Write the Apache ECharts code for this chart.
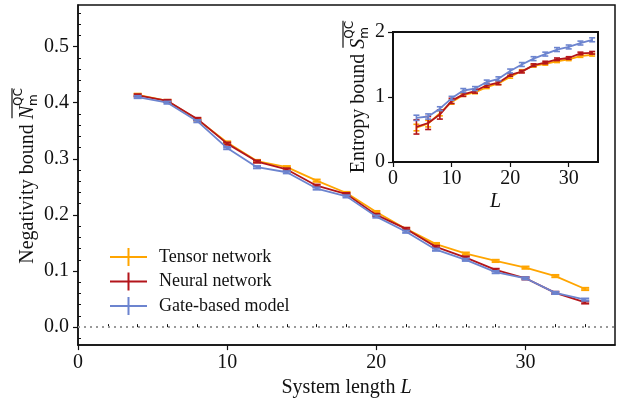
<!DOCTYPE html>
<html>
<head>
<meta charset="utf-8">
<script src="https://cdn.jsdelivr.net/npm/echarts@6/dist/echarts.min.js"></script>
<style>
html, body { margin: 0; padding: 0; background: #fff; }
#chart { width: 617px; height: 403px; }
</style>
</head>
<body>
<div id="chart"></div>
<script>
// system lengths
var L = [4, 6, 8, 10, 12, 14, 16, 18, 20, 22, 24, 26, 28, 30, 32, 34];

// negativity bound (main plot)
var negTN = [0.414, 0.403, 0.370, 0.329, 0.296, 0.285, 0.261, 0.239, 0.205, 0.175, 0.148, 0.131, 0.118, 0.106, 0.091, 0.068];
var negNN = [0.413, 0.403, 0.371, 0.327, 0.295, 0.281, 0.252, 0.237, 0.200, 0.175, 0.143, 0.124, 0.102, 0.087, 0.061, 0.044];
var negGB = [0.410, 0.400, 0.367, 0.319, 0.285, 0.276, 0.247, 0.233, 0.197, 0.170, 0.138, 0.120, 0.098, 0.087, 0.061, 0.049];
var negErrTN = [0.002, 0.002, 0.002, 0.002, 0.002, 0.002, 0.002, 0.002, 0.002, 0.002, 0.002, 0.002, 0.002, 0.002, 0.002, 0.002];
var negErrNN = [0.002, 0.002, 0.002, 0.002, 0.002, 0.002, 0.002, 0.002, 0.002, 0.002, 0.002, 0.002, 0.002, 0.002, 0.002, 0.002];
var negErrGB = [0.002, 0.002, 0.002, 0.002, 0.002, 0.002, 0.002, 0.002, 0.002, 0.002, 0.002, 0.002, 0.002, 0.002, 0.002, 0.002];

// entropy bound (inset)
var entTN = [0.53, 0.59, 0.75, 0.92, 1.03, 1.07, 1.15, 1.21, 1.31, 1.40, 1.48, 1.51, 1.55, 1.58, 1.63, 1.65];
var entNN = [0.54, 0.60, 0.73, 0.94, 1.04, 1.09, 1.18, 1.22, 1.34, 1.39, 1.49, 1.53, 1.58, 1.60, 1.67, 1.68];
var entGB = [0.68, 0.70, 0.82, 0.98, 1.10, 1.13, 1.23, 1.28, 1.40, 1.50, 1.59, 1.66, 1.73, 1.77, 1.83, 1.88];
var entErrTN = [0.05, 0.05, 0.04, 0.03, 0.02, 0.02, 0.02, 0.02, 0.02, 0.02, 0.02, 0.02, 0.02, 0.02, 0.02, 0.02];
var entErrNN = [0.11, 0.10, 0.07, 0.04, 0.03, 0.03, 0.03, 0.03, 0.02, 0.02, 0.02, 0.02, 0.02, 0.02, 0.02, 0.02];
var entErrGB = [0.04, 0.04, 0.03, 0.03, 0.03, 0.03, 0.03, 0.03, 0.03, 0.03, 0.03, 0.03, 0.03, 0.03, 0.03, 0.03];

// ticks
var mainXMajor = [0, 10, 20, 30];
var mainXMinor = [2, 4, 6, 8, 12, 14, 16, 18, 22, 24, 26, 28, 32, 34];
var mainYMajor = [0, 0.1, 0.2, 0.3, 0.4, 0.5];
var mainYMinor = [-0.02, 0.02, 0.04, 0.06, 0.08, 0.12, 0.14, 0.16, 0.18, 0.22, 0.24, 0.26, 0.28, 0.32, 0.34, 0.36, 0.38, 0.42, 0.44, 0.46, 0.48, 0.52, 0.54, 0.56];
var insetXMajor = [0, 10, 20, 30];
var insetYMajor = [0, 1, 2];

var names = ['Tensor network', 'Neural network', 'Gate-based model'];
var colors = ['#ffa500', '#b3151b', '#6c84cf'];

var SERIF = '"Liberation Serif", "DejaVu Serif", serif';
var SANS = '"DejaVu Sans", "Liberation Sans", sans-serif';
var INK = '#111';

var chart = echarts.init(document.getElementById('chart'), null, {renderer: 'canvas'});

function pairs(ys, errs) {
	var out = [];
	for (var i = 0; i < L.length; i++) {
		out.push([L[i], ys[i], errs[i]]);
	}
	return out;
}

function errorBars(name, color, ys, errs, axisIdx, cap, lw, z) {
	return {
		name: name,
		type: 'custom',
		xAxisIndex: axisIdx,
		yAxisIndex: axisIdx,
		z: z,
		clip: true,
		data: pairs(ys, errs),
		renderItem: function (params, api) {
			var x = api.value(0), y = api.value(1), e = api.value(2);
			var top = api.coord([x, y + e]);
			var bot = api.coord([x, y - e]);
			var st = {stroke: color, lineWidth: lw};
			return {
				type: 'group',
				children: [
					{type: 'line', shape: {x1: top[0], y1: top[1], x2: bot[0], y2: bot[1]}, style: st},
					{type: 'line', shape: {x1: top[0] - cap, y1: top[1], x2: top[0] + cap, y2: top[1]}, style: st},
					{type: 'line', shape: {x1: bot[0] - cap, y1: bot[1], x2: bot[0] + cap, y2: bot[1]}, style: st}
				]
			};
		}
	};
}

function lineSeries(name, color, ys, axisIdx, z) {
	var data = [];
	for (var i = 0; i < L.length; i++) data.push([L[i], ys[i]]);
	return {
		name: name,
		type: 'line',
		xAxisIndex: axisIdx,
		yAxisIndex: axisIdx,
		z: z,
		symbol: 'none',
		itemStyle: {color: color},
		lineStyle: {color: color, width: 1.8},
		data: data
	};
}

// measure text so the math-style y labels can be laid out by hand
var measureCtx = document.createElement('canvas').getContext('2d');
function textWidth(str, font) {
	measureCtx.font = font;
	return measureCtx.measureText(str).width;
}

function mathLabel(cx, cy, words, sym) {
	var fBase = '20px ' + SERIF;
	var fIt = 'italic 20px ' + SERIF;
	var fSmall = '12px ' + SANS;
	var w1 = textWidth(words, fBase);
	var w2 = textWidth(sym, fIt);
	var w3 = textWidth('QC', fSmall);
	var total = w1 + w2 + w3;
	var x0 = -total / 2;
	return {
		type: 'group',
		x: cx,
		y: cy,
		rotation: Math.PI / 2,
		z: 20,
		children: [
			{type: 'text', x: x0, y: 0, style: {text: words, font: fBase, fill: INK, align: 'left', verticalAlign: 'middle'}},
			{type: 'text', x: x0 + w1, y: 0, style: {text: sym, font: fIt, fill: INK, align: 'left', verticalAlign: 'middle'}},
			{type: 'text', x: x0 + w1 + w2, y: -9, style: {text: 'QC', font: fSmall, fill: INK, align: 'left', verticalAlign: 'middle'}},
			{type: 'text', x: x0 + w1 + w2, y: 6, style: {text: 'm', font: fSmall, fill: INK, align: 'left', verticalAlign: 'middle'}},
			{type: 'line', shape: {x1: x0 + w1 + 1, y1: -16, x2: x0 + total, y2: -16}, style: {stroke: INK, lineWidth: 1.2}}
		]
	};
}

function axisBase(extra) {
	var a = {
		type: 'value',
		axisLine: {show: true, onZero: false, lineStyle: {color: INK, width: 1.5}},
		splitLine: {show: false},
		axisTick: {show: true, length: 5, lineStyle: {color: INK, width: 1.2}},
		axisLabel: {color: INK, fontFamily: SERIF, fontSize: 20},
		animation: false
	};
	for (var k in extra) a[k] = extra[k];
	return a;
}

var legendIcon = 'path://M0,8H37V10H0Z M17.5,0H19.5V18H17.5Z';

var option = {
	animation: false,
	backgroundColor: '#fff',
	grid: [
		{left: 78, right: 2, top: 5, bottom: 55, show: true, borderColor: INK, borderWidth: 1.5, backgroundColor: '#fff', z: 0},
		{left: 393, right: 19, top: 32, bottom: 241, show: true, borderColor: INK, borderWidth: 2, backgroundColor: '#fff', z: 5}
	],
	xAxis: [
		axisBase({gridIndex: 0, min: 0, max: 36,
			axisTick: {show: true, length: 5, customValues: mainXMajor, lineStyle: {color: INK, width: 1.2}},
			axisLabel: {color: INK, fontFamily: SERIF, fontSize: 20, margin: 8, customValues: mainXMajor},
			name: 'System length {i|L}', nameLocation: 'middle', nameGap: 28,
			nameTextStyle: {color: INK, fontFamily: SERIF, fontSize: 20,
				rich: {i: {fontStyle: 'italic', fontFamily: SERIF, fontSize: 20, color: INK}}}}),
		axisBase({gridIndex: 1, min: 0, max: 35, z: 6,
			axisLine: {show: true, onZero: false, lineStyle: {color: INK, width: 2}},
			axisTick: {show: true, length: 5, customValues: insetXMajor, lineStyle: {color: INK, width: 1.2}},
			axisLabel: {color: INK, fontFamily: SERIF, fontSize: 20, margin: 7, customValues: insetXMajor},
			name: 'L', nameLocation: 'middle', nameGap: 30,
			nameTextStyle: {color: INK, fontFamily: SERIF, fontSize: 20, fontStyle: 'italic'}}),
		axisBase({gridIndex: 0, min: 0, max: 36,
			axisLine: {show: false},
			axisTick: {show: true, length: 3, customValues: mainXMinor, lineStyle: {color: INK, width: 1}},
			axisLabel: {show: false}})
	],
	yAxis: [
		axisBase({gridIndex: 0, min: -0.032, max: 0.574,
			axisTick: {show: true, length: 5, customValues: mainYMajor, lineStyle: {color: INK, width: 1.2}},
			axisLabel: {color: INK, fontFamily: SERIF, fontSize: 20, margin: 9, customValues: mainYMajor,
				formatter: function (v) { return v.toFixed(1); }}}),
		axisBase({gridIndex: 1, min: 0, max: 2, z: 6,
			axisLine: {show: true, onZero: false, lineStyle: {color: INK, width: 2}},
			axisTick: {show: true, length: 5, customValues: insetYMajor, lineStyle: {color: INK, width: 1.2}},
			axisLabel: {color: INK, fontFamily: SERIF, fontSize: 20, margin: 8, customValues: insetYMajor}}),
		axisBase({gridIndex: 0, min: -0.032, max: 0.574,
			axisLine: {show: false},
			axisTick: {show: true, length: 3, customValues: mainYMinor, lineStyle: {color: INK, width: 1}},
			axisLabel: {show: false}})
	],
	legend: {
		orient: 'vertical',
		left: 105,
		top: 243,
		itemWidth: 37,
		itemHeight: 18,
		itemGap: 6.5,
		selectedMode: false,
		textStyle: {color: INK, fontFamily: SERIF, fontSize: 18, padding: [0, 0, 0, 7]},
		data: [
			{name: names[0], icon: legendIcon},
			{name: names[1], icon: legendIcon},
			{name: names[2], icon: legendIcon}
		]
	},
	graphic: [
		mathLabel(28, 176, 'Negativity bound ', 'N'),
		mathLabel(359, 97, 'Entropy bound ', 'S')
	],
	series: [
		// main plot
		(function () {
			var s = lineSeries(names[0], colors[0], negTN, 0, 2);
			s.markLine = {
				silent: true,
				symbol: ['none', 'none'],
				label: {show: false},
				lineStyle: {color: '#999999', type: [2, 4], width: 2},
				data: [{yAxis: 0}]
			};
			return s;
		})(),
		errorBars(names[0], colors[0], negTN, negErrTN, 0, 4, 2, 3),
		lineSeries(names[1], colors[1], negNN, 0, 4),
		errorBars(names[1], colors[1], negNN, negErrNN, 0, 4, 2, 5),
		lineSeries(names[2], colors[2], negGB, 0, 6),
		errorBars(names[2], colors[2], negGB, negErrGB, 0, 4, 2, 7),
		// inset
		lineSeries(names[0], colors[0], entTN, 1, 10),
		errorBars(names[0], colors[0], entTN, entErrTN, 1, 3, 1.6, 11),
		lineSeries(names[1], colors[1], entNN, 1, 12),
		errorBars(names[1], colors[1], entNN, entErrNN, 1, 3, 1.6, 13),
		lineSeries(names[2], colors[2], entGB, 1, 14),
		errorBars(names[2], colors[2], entGB, entErrGB, 1, 3, 1.6, 15)
	]
};

chart.setOption(option);
</script>
</body>
</html>
